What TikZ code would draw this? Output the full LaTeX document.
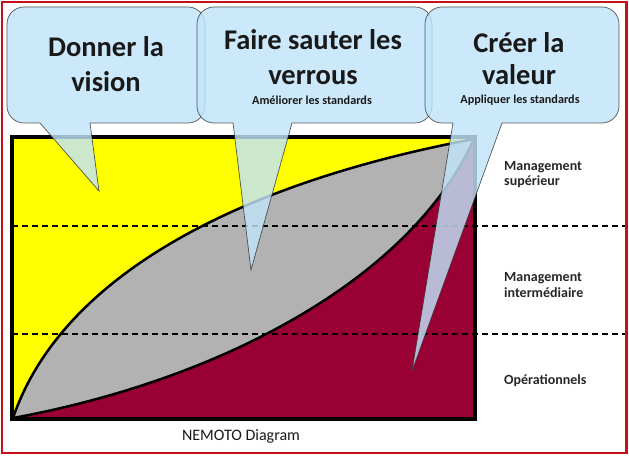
\documentclass[tikz,border=0pt]{standalone}
\usepackage{fontspec}
\setmainfont{Carlito}
\definecolor{yel}{RGB}{255,255,0}
\definecolor{gry}{RGB}{178,178,178}
\definecolor{mar}{RGB}{153,0,51}
\definecolor{bub}{RGB}{193,228,250}
\definecolor{frame}{RGB}{200,16,24}
\definecolor{txt}{RGB}{25,25,25}
\tikzset{
  bubble/.style={fill=bub, draw=black!80, line width=0.7pt, opacity=0.82},
  curveline/.style={line width=2.5pt, black},
  dashline/.style={line width=1.1pt, black, dash pattern=on 6pt off 4pt},
  bigtxt/.style={anchor=base, font=\bfseries\fontsize{28.5}{30}\selectfont, text=txt, inner sep=0pt},
  smalltxt/.style={anchor=base, font=\bfseries\fontsize{12.2}{13}\selectfont, text=txt, inner sep=0pt},
  lbl/.style={anchor=base west, font=\bfseries\fontsize{14}{15}\selectfont, text=black!85, inner sep=0pt},
}
\newcommand\mybubble[8]{%
  \path[bubble] (#5,#4) -- (#1+17,#4) arc[start angle=270,end angle=180,radius=17]
    -- (#1,#3-17) arc[start angle=180,end angle=90,radius=17]
    -- (#2-17,#3) arc[start angle=90,end angle=0,radius=17]
    -- (#2,#4+17) arc[start angle=0,end angle=-90,radius=17]
    -- (#6,#4) -- (#7,#8) -- cycle;}
\begin{document}
\begin{tikzpicture}[x=1pt,y=1pt]
\useasboundingbox (0,0) rectangle (629,457);
% diagram fills
\fill[yel] (12,38) rectangle (475,320);
\fill[mar] (13,39) .. controls (220,77) and (410,177) .. (474,318) -- (475,38) -- cycle;
\fill[gry] (13,39) .. controls (60,177) and (230,272) .. (474,318)
  .. controls (410,177) and (220,77) .. (13,39) -- cycle;
\draw[curveline] (13,39) .. controls (60,177) and (230,272) .. (474,318);
\draw[curveline] (13,39) .. controls (220,77) and (410,177) .. (474,318);
% level lines
\coordinate (d1a) at (12,231); \coordinate (d1b) at (626,231);
\coordinate (d2a) at (12,123); \coordinate (d2b) at (626,123);
\draw[dashline] (d1a) -- (d1b);
\draw[dashline] (d2a) -- (d2b);
\draw[line width=3.8pt, black] (12,38) rectangle (475,320);
% right labels
\node[lbl] (l1a) at (504,286) {Management};
\node[lbl] (l1b) at (504,271) {supérieur};
\node[lbl] (l2a) at (504,175) {Management};
\node[lbl] (l2b) at (504,159) {intermédiaire};
\node[lbl] (l3) at (504,72) {Opérationnels};
\node[anchor=base, font=\fontsize{16}{18}\selectfont, text=txt, inner sep=0pt] (cap) at (241,16) {NEMOTO Diagram};
% callouts
\mybubble{7}{205}{450}{334}{40}{90}{99}{266}
\node[bigtxt] (c1a) at (106,400) {Donner la};
\node[bigtxt] (c1b) at (106,365) {vision};
\mybubble{197}{432}{450}{334}{233}{292}{251}{187}
\node[bigtxt] (c2a) at (313,407) {Faire sauter les};
\node[bigtxt] (c2b) at (313,372) {verrous};
\node[smalltxt] (c2c) at (312,352) {Améliorer les standards};
\mybubble{425}{619}{450}{334}{453}{502}{412}{86}
\node[bigtxt] (c3a) at (519,404) {Créer la};
\node[bigtxt] (c3b) at (519,372) {valeur};
\node[smalltxt] (c3c) at (520,353) {Appliquer les standards};
% outer frame
\draw[frame, line width=2.5pt] (2,4) rectangle (626.5,455);
\end{tikzpicture}
\end{document}
